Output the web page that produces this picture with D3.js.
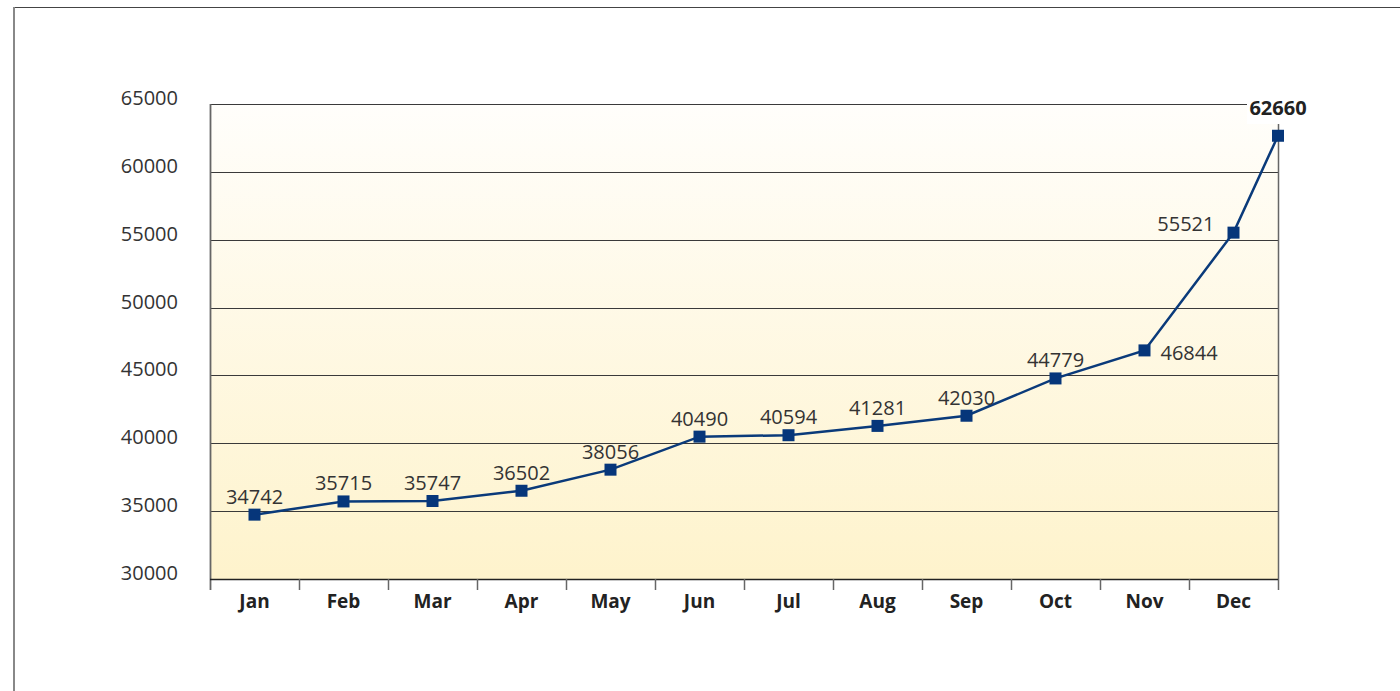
<!DOCTYPE html>
<html><head><meta charset="utf-8">
<script src="https://cdn.jsdelivr.net/npm/d3@7/dist/d3.min.js"></script>
<style>body{margin:0;background:#fff;}svg{display:block;font-family:"Open Sans",sans-serif;}</style>
</head><body>
<svg id="c" width="1400" height="691"></svg>
<script>
const months = ["Jan","Feb","Mar","Apr","May","Jun","Jul","Aug","Sep","Oct","Nov","Dec"];
const values = [34742,35715,35747,36502,38056,40490,40594,41281,42030,44779,46844,55521,62660];
const yTicks = [30000,35000,40000,45000,50000,55000,60000,65000];

const svg = d3.select("#c");
const L=210,R=1278,T=104,B=579;
const x = d3.scaleBand().domain(months).range([L,R]).padding(0);
const y = d3.scaleLinear().domain([30000,65000]).range([B,T]);
const px = i => i < months.length ? x(months[i]) + x.bandwidth()/2 : x.range()[1];

// outer border
svg.append("line").attr("x1",14).attr("x2",1400).attr("y1",7.5).attr("y2",7.5).attr("stroke","#444").attr("stroke-width",1);
svg.append("line").attr("x1",14).attr("x2",14).attr("y1",7).attr("y2",691).attr("stroke","#888").attr("stroke-width",2);

const defs = svg.append("defs");
const g = defs.append("linearGradient").attr("id","bg").attr("x1",0).attr("x2",0).attr("y1",0).attr("y2",1);
g.append("stop").attr("offset","0%").attr("stop-color","#fffefb");
g.append("stop").attr("offset","100%").attr("stop-color","#fef3cc");
svg.append("rect").attr("x",L).attr("y",T).attr("width",R-L).attr("height",B-T).attr("fill","url(#bg)");

// gridlines
svg.append("g").selectAll("line").data(yTicks.slice(1)).join("line")
  .attr("x1",L).attr("x2",R).attr("y1",d=>Math.round(y(d))+0.5).attr("y2",d=>Math.round(y(d))+0.5)
  .attr("stroke","#3a3a3a").attr("stroke-width",1.2);
// right line
svg.append("line").attr("x1",R+0.5).attr("x2",R+0.5).attr("y1",T).attr("y2",B+11).attr("stroke","#666").attr("stroke-width",1.5);
// left axis
svg.append("line").attr("x1",L+0.5).attr("x2",L+0.5).attr("y1",T).attr("y2",B+11).attr("stroke","#666").attr("stroke-width",1.8);
// bottom axis
svg.append("line").attr("x1",L).attr("x2",R).attr("y1",B+0.5).attr("y2",B+0.5).attr("stroke","#222").attr("stroke-width",1.5);
// x ticks at band boundaries
svg.append("g").selectAll("line").data(months.slice(1)).join("line")
  .attr("x1",d=>x(d)+0.5).attr("x2",d=>x(d)+0.5).attr("y1",B).attr("y2",B+11)
  .attr("stroke","#666").attr("stroke-width",1.5);

// y labels
svg.append("g").selectAll("text").data(yTicks).join("text")
  .attr("x",178).attr("y",d=>y(d)+1).attr("text-anchor","end")
  .attr("font-size",20).attr("fill","#333").text(d=>d);
// x labels
svg.append("g").selectAll("text").data(months).join("text")
  .attr("x",d=>x(d)+x.bandwidth()/2).attr("y",608).attr("text-anchor","middle")
  .attr("font-size",19).attr("font-weight","bold").attr("fill","#222").text(d=>d);

// line
const pts = values.map((v,i)=>[px(i), y(v)]);
svg.append("path").attr("d",d3.line()(pts)).attr("fill","none").attr("stroke","#0a3a7a").attr("stroke-width",2.5);
svg.append("g").selectAll("rect").data(pts).join("rect")
  .attr("x",d=>d[0]-6).attr("y",d=>d[1]-6).attr("width",12).attr("height",12).attr("fill","#06367a");

// value labels
const n = values.length;
values.forEach((v,i)=>{
  const [cx,cy] = pts[i];
  let tx=cx, ty=cy-11, anchor="middle", bold=false;
  if(i===10){ tx=cx+16; ty=cy+10; anchor="start"; }
  else if(i===11){ tx=cx-19; ty=cy-2; anchor="end"; }
  else if(i===n-1){ ty=cy-21; bold=true; }
  if(bold){
    svg.append("rect").attr("x",cx-31).attr("y",T-6).attr("width",62).attr("height",26).attr("fill","#fff");
  }
  svg.append("text").attr("x",tx).attr("y",ty).attr("text-anchor",anchor)
    .attr("font-size",20).attr("font-weight",bold?"bold":"normal").attr("fill",bold?"#222":"#333").text(v);
});
</script>
</body></html>
